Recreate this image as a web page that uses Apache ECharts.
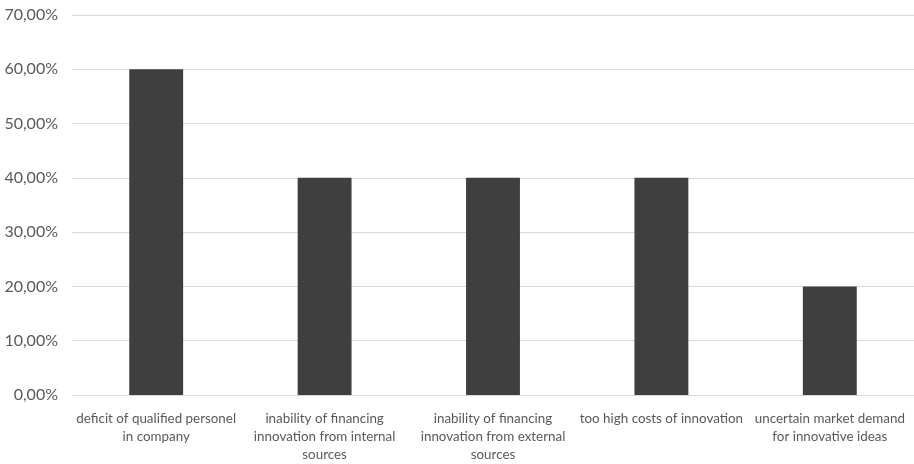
<!DOCTYPE html>
<html>
<head>
<meta charset="utf-8">
<script src="https://cdn.jsdelivr.net/npm/echarts@6/dist/echarts.min.js"></script>
<style>
  html, body { margin: 0; padding: 0; background: #ffffff; }
  #chart { width: 914px; height: 464px; }
</style>
</head>
<body>
<div id="chart"></div>
<script>
// Barriers to innovation: share of companies reporting each barrier
const categories = [
  'deficit of qualified personel\nin company',
  'inability of financing\ninnovation from internal\nsources',
  'inability of financing\ninnovation from external\nsources',
  'too high costs of innovation',
  'uncertain market demand\nfor innovative ideas'
];
const shares = [60, 40, 40, 40, 20];
const yTicks = { min: 0, max: 70, step: 10 };

const chart = echarts.init(document.getElementById('chart'), null, { renderer: 'canvas' });
chart.setOption({
  animation: false,
  grid: { left: 72, right: 0, top: 15, bottom: 63, containLabel: false },
  xAxis: {
    type: 'category',
    data: categories,
    axisLine: { show: true, lineStyle: { color: '#d9d9d9', width: 1 } },
    axisTick: { show: false },
    axisLabel: {
      interval: 0,
      color: '#595959',
      fontFamily: 'Lato, "Open Sans", sans-serif',
      fontSize: 13.4,
      lineHeight: 18,
      margin: 15,
      align: 'center'
    }
  },
  yAxis: {
    type: 'value',
    min: yTicks.min,
    max: yTicks.max,
    interval: yTicks.step,
    axisLine: { show: false },
    axisTick: { show: false },
    splitLine: { lineStyle: { color: '#d9d9d9', width: 1 } },
    axisLabel: {
      color: '#595959',
      fontFamily: 'Lato, "Open Sans", sans-serif',
      fontSize: 16,
      margin: 14,
      formatter: v => v.toFixed(2).replace('.', ',') + '%'
    }
  },
  series: [{
    type: 'bar',
    data: shares,
    barWidth: '32%',
    itemStyle: { color: '#3f3f3f' }
  }]
});
</script>
</body>
</html>
